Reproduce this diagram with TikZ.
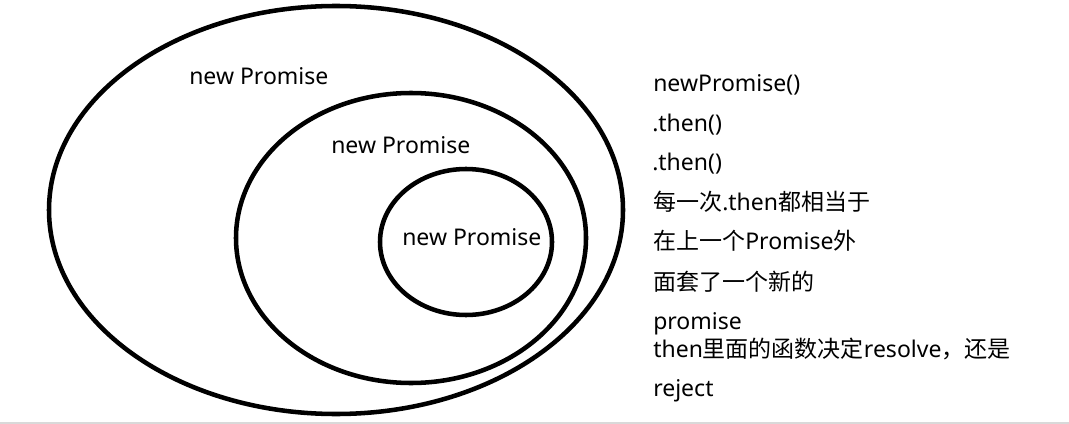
\documentclass[tikz,border=0pt]{standalone}
\usepackage{fontspec}
\setmainfont{Noto Sans}
\newfontfamily\cjk{Noto Sans CJK SC}
\usetikzlibrary{shapes.geometric}
\definecolor{Rule}{HTML}{D9D9D9}

\begin{document}
\begin{tikzpicture}[x=0.75pt, y=-0.75pt,
    ring/.style={draw, ellipse, line width=3.4pt, inner sep=0pt},
    note/.style={anchor=base west, inner sep=0pt, font=\fontsize{17.25}{20}\selectfont}]
    \useasboundingbox (0,0) rectangle (1069,424);
    % nested promises
    \node[ring, minimum width=430.5pt, minimum height=306pt] (outer) at (336,210) {};
    \node[ring, minimum width=262.5pt, minimum height=217.5pt] (middle) at (411,238) {};
    \node[ring, minimum width=129pt, minimum height=109.5pt] (inner) at (466,242) {};
    \node[note] (outerlbl) at (189,85) {new Promise};
    \node[note] (middlelbl) at (331,153) {new Promise};
    \node[note] (innerlbl) at (402,245) {new Promise};
    % explanation
    \node[note] (l1) at (653,92) {newPromise()};
    \node[note] (l2) at (652,132) {.then()};
    \node[note] (l3) at (652,171) {.then()};
    \node[note] (l4) at (653,210) {{\cjk 每一次}.then{\cjk 都相当于}};
    \node[note] (l5) at (653,249) {{\cjk 在上一个}Promise{\cjk 外}};
    \node[note] (l6) at (653,290) {{\cjk 面套了一个新的}};
    \node[note] (l7) at (653,329) {promise};
    \node[note] (l8) at (653,357) {then{\cjk 里面的函数决定}resolve{\cjk ，还是}};
    \node[note] (l9) at (653,396) {reject};
    \draw[Rule, line width=1.2pt] (0,423) -- (1069,423);
\end{tikzpicture}
\end{document}
